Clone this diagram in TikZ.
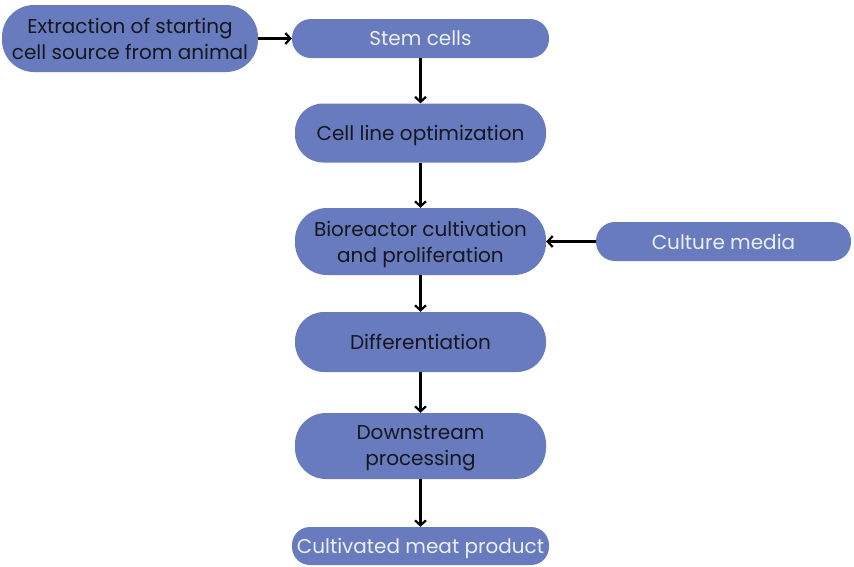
\documentclass[tikz,border=0pt]{standalone}
\usepackage{fontspec}
\setmainfont{Poppins}
\usetikzlibrary{arrows.meta}
\definecolor{boxfill}{HTML}{677BBE}
\definecolor{darktext}{HTML}{16161E}
\definecolor{lighttext}{HTML}{EEF0F8}
\tikzset{
  stage/.style={draw=none, fill=boxfill, align=center, inner sep=0pt,
    text depth=0pt, font=\fontsize{20}{26}\selectfont, text=darktext},
  lightstage/.style={stage, text=lighttext},
  flow/.style={draw=black, line width=2.4pt,
    -{Straight Barb[length=5pt, width=11pt, line width=2.2pt]}}
}
\begin{document}
\begin{tikzpicture}[x=1pt, y=-1pt]
\useasboundingbox (0,0) rectangle (854,566);
% process stages
\node[stage, minimum width=256pt, minimum height=67pt, rounded corners=32pt]
  (extract) at (130,38.5) {Extraction of starting\\cell source from animal};
\node[lightstage, minimum width=257pt, minimum height=39pt, rounded corners=19pt]
  (stem) at (420.5,38.5) {Stem cells};
\node[stage, minimum width=251pt, minimum height=59pt, rounded corners=28pt]
  (cellline) at (420.5,133) {Cell line optimization};
\node[stage, minimum width=251pt, minimum height=67pt, rounded corners=32pt]
  (bioreactor) at (420.5,241.5) {Bioreactor cultivation\\and proliferation};
\node[lightstage, minimum width=255pt, minimum height=39pt, rounded corners=19pt]
  (media) at (723.5,241.5) {Culture media};
\node[stage, minimum width=251pt, minimum height=60pt, rounded corners=29pt]
  (diff) at (420.5,342) {Differentiation};
\node[stage, minimum width=251pt, minimum height=66pt, rounded corners=31pt]
  (downstream) at (420.5,446) {Downstream\\processing};
\node[lightstage, minimum width=257pt, minimum height=38pt, rounded corners=18pt]
  (meat) at (420.5,546) {Cultivated meat product};
% connectors
\draw[flow] (extract) -- (stem);
\draw[flow] (stem) -- (cellline);
\draw[flow] (cellline) -- (bioreactor);
\draw[flow] (media) -- (bioreactor);
\draw[flow] (bioreactor) -- (diff);
\draw[flow] (diff) -- (downstream);
\draw[flow] (downstream) -- (meat);
\end{tikzpicture}
\end{document}
